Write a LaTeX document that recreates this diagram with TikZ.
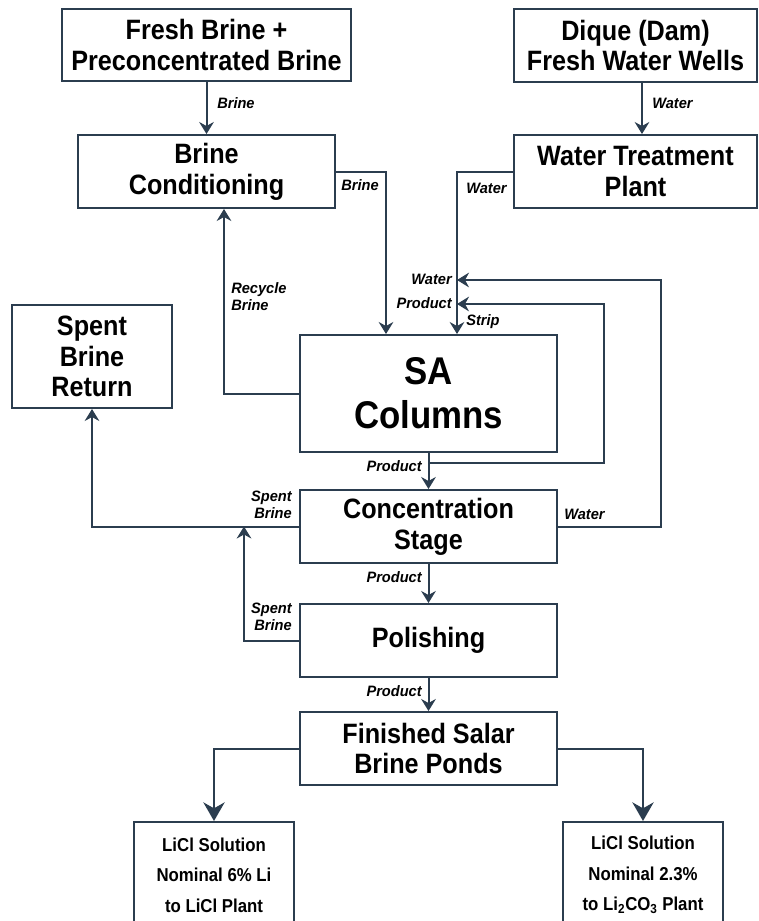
\documentclass[tikz,border=0pt]{standalone}
\usepackage{fontspec}
\setmainfont{Liberation Sans}[FakeStretch=0.9]
\newfontfamily\labfont{Liberation Sans}[FakeStretch=0.97]
\usetikzlibrary{arrows.meta}
\definecolor{ln}{HTML}{2B3D4F}
\begin{document}
\begin{tikzpicture}[x=0.75pt,y=-0.75pt,
  box/.style={draw=ln, line width=1.5pt, inner sep=0pt, align=center,
    font=\fontsize{21}{23}\selectfont\bfseries},
  sz/.style 2 args={minimum width=#1*0.75pt, minimum height=#2*0.75pt},
  bigtxt/.style={font=\fontsize{29}{33}\selectfont\bfseries},
  smalltxt/.style={font=\fontsize{14}{23}\selectfont\bfseries},
  lab/.style={inner sep=0pt, align=left, font=\labfont\fontsize{11.3}{12.75}\selectfont\bfseries\itshape},
  labr/.style={lab, align=right},
  arr/.style={draw=ln, line width=1.5pt, -{Stealth[length=9pt,width=11pt,inset=3pt]}},
  big/.style={draw=ln, line width=1.5pt, -{Stealth[length=14pt,width=16pt,inset=4.5pt]}}]
\useasboundingbox (0,0) rectangle (759,921);

% boxes
\node[box, sz={289}{72}] (fresh) at (206.5,45) {Fresh Brine +\\Preconcentrated Brine};
\node[box, sz={257}{73}] (cond) at (206.5,171.5) {Brine\\Conditioning};
\node[box, sz={243}{73}] (dique) at (635.5,45.5) {Dique (Dam)\\Fresh Water Wells};
\node[box, sz={243}{73}] (wtp) at (635.5,171.5) {Water Treatment\\Plant};
\node[box, sz={160}{103}] (spent) at (92,356.5) {Spent\\Brine\\Return};
\node[box, bigtxt, sz={257}{117}] (sa) at (428.5,393.5) {SA\\Columns};
\node[box, sz={257}{73}] (conc) at (428.5,526.5) {Concentration\\Stage};
\node[box, sz={257}{73}] (pol) at (428.5,640.5) {Polishing};
\node[box, sz={257}{73}] (fin) at (428.5,748.5) {Finished Salar\\Brine Ponds};
\node[box, smalltxt, sz={160}{106}] (licla) at (214,875) {LiCl Solution\\Nominal 6\% Li\\to LiCl Plant};
\node[box, smalltxt, sz={160}{106}] (liclb) at (643,875) {LiCl Solution\\Nominal 2.3\%\\to Li\textsubscript{2}CO\textsubscript{3} Plant};

% helper coordinates
\coordinate (xw) at (642,0);
\coordinate (xa) at (386,0);
\coordinate (xb) at (457,0);
\coordinate (xr) at (224,0);
\coordinate (pl1) at (428.5,463);
\coordinate (pl2) at (604,304);
\coordinate (pl3) at (457,304);
\coordinate (wl2) at (661,280);
\coordinate (wl3) at (457,280);
\coordinate (sj) at (244,526.5);

% connectors
\draw[arr] (fresh) -- (cond);
\draw[arr] (dique.south -| xw) -- (wtp.north -| xw);
\draw[arr] (cond.east) -| (sa.north -| xa);
\draw[arr] (wtp.west) -| (sa.north -| xb);
\draw[arr] (sa.south) -- (conc.north);
\draw[arr] (pl1) -| (pl2) -- (pl3);
\draw[arr] (conc.east) -| (wl2) -- (wl3);
\draw[arr] (sa.west) -| (cond.south -| xr);
\draw[arr] (conc.west) -| (spent.south);
\draw[arr] (pol.west) -| (sj);
\draw[arr] (conc.south) -- (pol.north);
\draw[arr] (pol.south) -- (fin.north);
\draw[big] (fin.west) -| (licla.north);
\draw[big] (fin.east) -| (liclb.north);

% labels
\node[lab, anchor=west] at (217,103) {Brine};
\node[lab, anchor=west] at (341,185) {Brine};
\node[lab, anchor=west] at (652,103) {Water};
\node[lab, anchor=west] at (466,188) {Water};
\node[lab, anchor=west] at (231,297) {Recycle\\Brine};
\node[lab, anchor=east] at (452,279) {Water};
\node[lab, anchor=east] at (452,303) {Product};
\node[lab, anchor=west] at (466,322) {Strip};
\node[lab, anchor=east] at (422,466) {Product};
\node[lab, anchor=west] at (564,514) {Water};
\node[labr, anchor=east] at (292,505) {Spent\\Brine};
\node[lab, anchor=east] at (422,577) {Product};
\node[labr, anchor=east] at (292,617) {Spent\\Brine};
\node[lab, anchor=east] at (422,691) {Product};
\end{tikzpicture}
\end{document}
